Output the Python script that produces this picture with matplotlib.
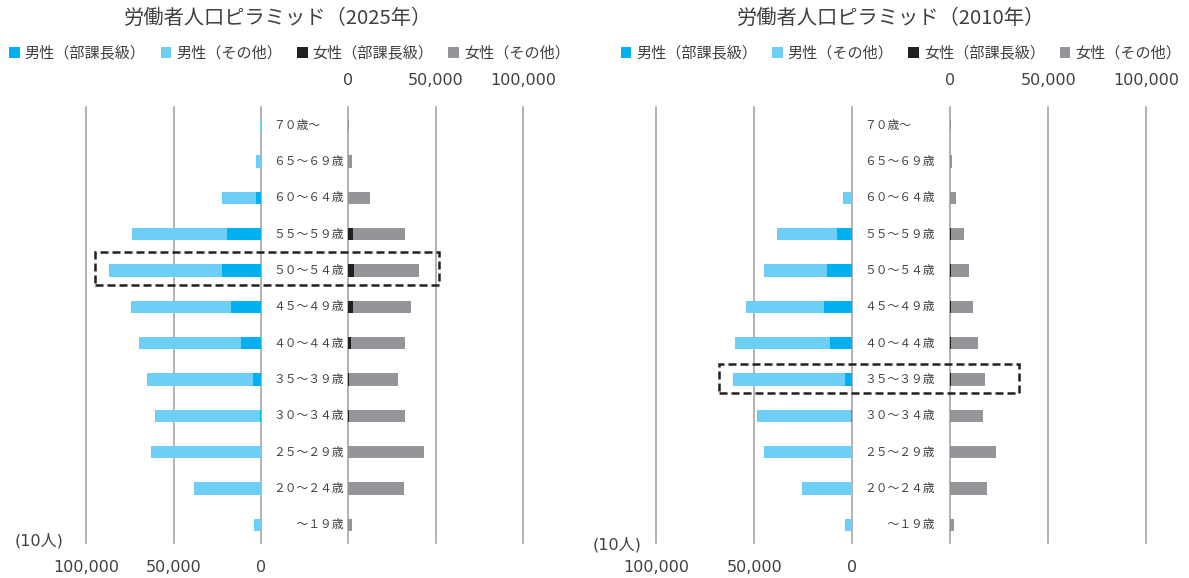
# -*- coding: utf-8 -*-

import matplotlib.pyplot as plt
from matplotlib.patches import Patch, Rectangle

SET_DPI = 100
FIG_W, FIG_H = 1189, 578
FIGSIZE = (FIG_W / SET_DPI, FIG_H / SET_DPI)

plt.rcParams['font.family'] = ['Noto Sans CJK JP', 'DejaVu Sans']

TEXT_COLOR = '#404040'
GRID_COLOR = '#a6a6a6'

# age groups, top row first
CATEGORIES = ['７０歳～', '６５～６９歳', '６０～６４歳', '５５～５９歳',
              '５０～５４歳', '４５～４９歳', '４０～４４歳', '３５～３９歳',
              '３０～３４歳', '２５～２９歳', '２０～２４歳', '\u3000\u3000～１９歳']
SERIES = ['男性（部課長級）', '男性（その他）', '女性（部課長級）', '女性（その他）']
COLORS = ['#00b0f0', '#6dcff6', '#231f20', '#939598']
TICKS = [0, 50000, 100000]

# values in units of 10 people
MALE_MGR_2025 = [0, 0, 3000, 19400, 22300, 17000, 11400, 4600, 500, 0, 0, 0]
MALE_OTHER_2025 = [500, 2900, 19500, 54100, 64400, 57300, 58300, 60400,
                   59900, 62900, 38100, 4200]
FEMALE_MGR_2025 = [0, 0, 0, 2500, 3300, 2700, 1500, 300, 200, 0, 0, 0]
FEMALE_OTHER_2025 = [600, 2300, 12600, 29700, 37100, 33300, 30700, 27900,
                     32000, 43400, 31700, 1900]

MALE_MGR_2010 = [0, 0, 300, 7800, 12900, 14600, 11500, 3900, 800, 100, 0, 0]
MALE_OTHER_2010 = [200, 500, 4600, 30600, 32200, 39600, 48200, 57100,
                   48000, 44800, 25500, 3700]
FEMALE_MGR_2010 = [0, 0, 0, 200, 500, 600, 500, 200, 100, 0, 0, 0]
FEMALE_OTHER_2010 = [200, 700, 2800, 6900, 8900, 11100, 13800, 17700,
                     16700, 23500, 18600, 1700]

PLOT_TOP, PLOT_BOTTOM = 107, 543


def px_box(left, right, top=PLOT_TOP, bottom=PLOT_BOTTOM):
    """Pixel edges -> [left, bottom, width, height] in figure fraction."""
    return [left / FIG_W, 1 - bottom / FIG_H,
            (right - left) / FIG_W, (bottom - top) / FIG_H]


def style_value_axis(ax, top):
    ax.set_xticks(TICKS)
    ax.set_xticklabels(['{:,}'.format(t) for t in TICKS],
                       fontfamily='DejaVu Sans', fontsize=11.5, color=TEXT_COLOR)
    if top:
        ax.xaxis.tick_top()
        ax.tick_params(axis='x', length=0, pad=14)
    else:
        ax.tick_params(axis='x', length=0, pad=12.5)
    ax.set_yticks([])
    for spine in ax.spines.values():
        spine.set_visible(False)
    for t in TICKS:
        ax.axvline(t, color=GRID_COLOR, lw=1.2, zorder=0, clip_on=False)
    ax.set_ylim(len(CATEGORIES) - 0.5, -0.5)
    ax.patch.set_alpha(0)


def plot_pyramid(fig, title, male_mgr, male_other, female_mgr, female_other,
                 male_px, female_px, title_x, legend_x, unit_xy, box_px):
    """
    Draws one working-population pyramid.

    male_px, female_px: (left, right) pixel edges of the two value axes
    box_px: (left, top, right, bottom) pixel edges of the highlight box
    """
    y = list(range(len(CATEGORIES)))
    height = 0.34

    ax_m = fig.add_axes(px_box(*male_px))
    ax_m.barh(y, male_mgr, height=height, color=COLORS[0])
    ax_m.barh(y, male_other, left=male_mgr, height=height, color=COLORS[1])
    ax_m.set_xlim(100000, 0)
    style_value_axis(ax_m, top=False)

    ax_f = fig.add_axes(px_box(*female_px))
    ax_f.barh(y, female_mgr, height=height, color=COLORS[2])
    ax_f.barh(y, female_other, left=female_mgr, height=height, color=COLORS[3])
    ax_f.set_xlim(0, 100000)
    style_value_axis(ax_f, top=True)

    # age labels in the gap between the two halves
    gap = female_px[0] - male_px[1]
    ax_l = fig.add_axes(px_box(male_px[1], female_px[0]))
    ax_l.set_ylim(len(CATEGORIES) - 0.5, -0.5)
    ax_l.axis('off')
    for i, label in enumerate(CATEGORIES):
        ax_l.text(12 / gap, i, label, transform=ax_l.get_yaxis_transform(),
                  ha='left', va='center', fontsize=8.5, color=TEXT_COLOR)

    fig.text(title_x / FIG_W, 1 - 18 / FIG_H, title, ha='center', va='center',
             fontsize=14.6, color=TEXT_COLOR)

    handles = [Patch(facecolor=c, edgecolor='none') for c in COLORS]
    fig.legend(handles, SERIES, ncol=4, loc='center left',
               bbox_to_anchor=(legend_x / FIG_W, 1 - 53 / FIG_H),
               frameon=False, fontsize=10.9, handlelength=0.7,
               handleheight=0.7, handletextpad=0.33, columnspacing=0.98,
               borderpad=0, borderaxespad=0, labelcolor=TEXT_COLOR)

    fig.text(unit_xy[0] / FIG_W, 1 - unit_xy[1] / FIG_H, '(10人)',
             family=['DejaVu Sans', 'Noto Sans CJK JP'],
             ha='center', va='center', fontsize=11.5, color=TEXT_COLOR)

    l, t, r, b = box_px
    fig.add_artist(Rectangle((l / FIG_W, 1 - b / FIG_H), (r - l) / FIG_W,
                             (b - t) / FIG_H, transform=fig.transFigure,
                             fill=False, edgecolor='#231f20', lw=1.8,
                             linestyle=(0, (3.2, 1.6))))


fig = plt.figure(figsize=FIGSIZE, dpi=SET_DPI)

plot_pyramid(fig, '労働者人口ピラミッド（2025年）',
             MALE_MGR_2025, MALE_OTHER_2025, FEMALE_MGR_2025, FEMALE_OTHER_2025,
             male_px=(86, 261), female_px=(348.3, 523.3),
             title_x=278, legend_x=9.3, unit_xy=(39, 541),
             box_px=(94.7, 252.3, 439, 285))

plot_pyramid(fig, '労働者人口ピラミッド（2010年）',
             MALE_MGR_2010, MALE_OTHER_2010, FEMALE_MGR_2010, FEMALE_OTHER_2010,
             male_px=(656.3, 852.3), female_px=(950.3, 1146.3),
             title_x=891.5, legend_x=620.7, unit_xy=(617, 545),
             box_px=(719, 364.3, 1019.3, 393.3))

plt.savefig('out.png', dpi=SET_DPI)
plt.close()
